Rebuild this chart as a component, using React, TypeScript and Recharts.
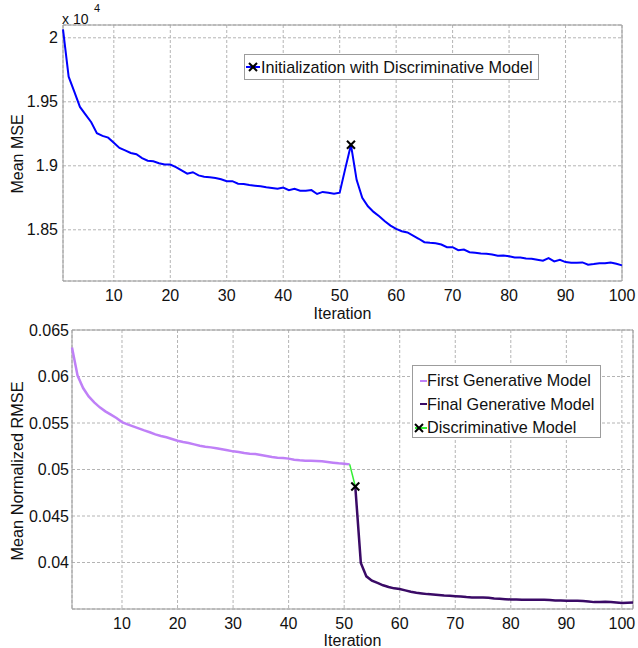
import { CartesianGrid, Legend, Line, LineChart, ReferenceArea, XAxis, YAxis } from "recharts";

const FONT = "'Liberation Sans', Arial, sans-serif";

// iteration axis
const topIterations = Array.from({ length: 100 }, (_, i) => i + 1);
const bottomIterations = Array.from({ length: 102 }, (_, i) => i + 1);
const xTicks = [10, 20, 30, 40, 50, 60, 70, 80, 90, 100];

// top panel: Mean MSE per iteration
const meanMse = [
  20065, 19696, 19580, 19460, 19400, 19340, 19255, 19234, 19220, 19180,
  19140, 19120, 19100, 19090, 19060, 19040, 19035, 19020, 19010, 19010,
  18990, 18964, 18938, 18950, 18925, 18915, 18910, 18905, 18895, 18880,
  18880, 18860, 18858, 18850, 18845, 18840, 18832, 18827, 18820, 18830,
  18810, 18820, 18805, 18805, 18810, 18780, 18796, 18790, 18782, 18790,
  18980, 19164, 18890, 18750, 18684, 18640, 18606, 18567, 18533, 18507,
  18489, 18479, 18455, 18430, 18403, 18398, 18395, 18385, 18364, 18364,
  18341, 18346, 18325, 18320, 18315, 18312, 18307, 18297, 18300, 18294,
  18284, 18284, 18276, 18274, 18266, 18258, 18279, 18253, 18266, 18248,
  18243, 18243, 18245, 18227, 18232, 18238, 18238, 18245, 18235, 18222,
];
const initIteration = 52;
const mseTicks = [18500, 19000, 19500, 20000];

// bottom panel: Mean Normalized RMSE
const firstGenerative = [
  0.06313, 0.0601, 0.05876, 0.05786, 0.05722, 0.05668, 0.05625, 0.0559, 0.05554, 0.0551,
  0.05485, 0.05464, 0.05442, 0.0542, 0.054, 0.05378, 0.0536, 0.05346, 0.05328, 0.0531,
  0.05296, 0.05285, 0.0527, 0.05256, 0.05245, 0.05238, 0.05228, 0.05217, 0.05206, 0.05195,
  0.05188, 0.05177, 0.0517, 0.05167, 0.05156, 0.05145, 0.05134, 0.05127, 0.05124, 0.05117,
  0.05106, 0.05099, 0.05095, 0.05094, 0.05092, 0.05088, 0.0508, 0.05073, 0.05066, 0.05063,
  0.05055,
]; // iterations 1..51
const finalGenerative = [
  0.04818, 0.03995, 0.03851, 0.03805, 0.0378, 0.03755, 0.03737, 0.03722, 0.03715,
  0.037, 0.03685, 0.03674, 0.03667, 0.0366, 0.03656, 0.0365, 0.03645, 0.03642, 0.03638,
  0.03635, 0.03628, 0.03624, 0.03624, 0.03624, 0.0362, 0.03613, 0.0361, 0.03606, 0.03603,
  0.03603, 0.03599, 0.03599, 0.03599, 0.03599, 0.03599, 0.03596, 0.03592, 0.03592, 0.03588,
  0.03588, 0.03588, 0.03585, 0.03581, 0.03574, 0.03574, 0.03578, 0.03574, 0.03571, 0.03564,
  0.03567, 0.03571,
]; // iterations 52..102
const discIteration = 52;
const rmseTicks = [0.04, 0.045, 0.05, 0.055, 0.06, 0.065];

const topData = topIterations.map((it, i) => ({
  it,
  mse: meanMse[i],
  init: it === initIteration ? meanMse[i] : null,
}));

const firstEnd = firstGenerative.length; // 51
const bottomData = bottomIterations.map((it) => {
  const first = it <= firstEnd ? firstGenerative[it - 1] : null;
  const final = it >= discIteration ? finalGenerative[it - discIteration] : null;
  return {
    it,
    first,
    final,
    bridge: it === firstEnd ? first : it === discIteration ? final : null,
    disc: it === discIteration ? final : null,
  };
});

const gridColor = "#b4b4b4";
const boxColor = "#9c9c9c";
const tickStyle = { fontSize: 16, fill: "#111", fontFamily: FONT };

const Cross = ({ x, y, s = 4 }: { x: number; y: number; s?: number }) => (
  <g stroke="#000" strokeWidth={2}>
    <line x1={x - s} y1={y - s} x2={x + s} y2={y + s} />
    <line x1={x - s} y1={y + s} x2={x + s} y2={y - s} />
  </g>
);

const crossDot = (props: any) => {
  const { cx, cy, value, index } = props;
  if (value == null || cx == null || cy == null) return <g key={`d${index}`} />;
  return (
    <g key={`d${index}`}>
      <Cross x={cx} y={cy} />
    </g>
  );
};

function TopLegend() {
  return (
    <div
      style={{
        boxSizing: "border-box",
        width: 295,
        height: 26,
        border: `1px solid ${boxColor}`,
        background: "#fff",
        display: "flex",
        alignItems: "center",
        fontFamily: FONT,
        fontSize: 16.2,
        color: "#111",
        whiteSpace: "nowrap",
      }}
    >
      <svg width={16} height={24}>
        <line x1={1} y1={12} x2={15} y2={12} stroke="#0000ff" strokeWidth={2} />
        <Cross x={8} y={12} />
      </svg>
      <span>Initialization with Discriminative Model</span>
    </div>
  );
}

const bottomLegendItems = [
  { label: "First Generative Model", color: "#bf80f7", cross: false },
  { label: "Final Generative Model", color: "#3a0a66", cross: false },
  { label: "Discriminative Model", color: "#33ee33", cross: true },
];

function BottomLegend() {
  return (
    <div
      style={{
        boxSizing: "border-box",
        width: 189,
        height: 73,
        paddingTop: 3,
        border: `1px solid ${boxColor}`,
        background: "#fff",
        fontFamily: FONT,
        fontSize: 16.2,
        color: "#111",
        whiteSpace: "nowrap",
      }}
    >
      {bottomLegendItems.map((item) => (
        <div key={item.label} style={{ display: "flex", alignItems: "center", height: 23.5 }}>
          <svg width={14} height={20}>
            <line x1={item.cross ? 2 : 7} y1={10} x2={14} y2={10} stroke={item.color} strokeWidth={2} />
            {item.cross && <Cross x={6} y={10} />}
          </svg>
          <span>{item.label}</span>
        </div>
      ))}
    </div>
  );
}

export default function App() {
  return (
    <div style={{ position: "absolute", left: 0, top: 0, width: 638, height: 648, background: "#fff", fontFamily: FONT }}>
      <div style={{ position: "absolute", left: 0, top: 0 }}>
        <LineChart width={638} height={320} data={topData} margin={{ top: 25, right: 16, bottom: 0, left: 13 }}>
          <CartesianGrid stroke={gridColor} strokeDasharray="3 2" />
          <XAxis
            dataKey="it"
            type="number"
            domain={[1, 100]}
            ticks={xTicks}
            height={39}
            tickLine={false}
            axisLine={false}
            tickSize={6}
            tickMargin={3}
            tick={tickStyle}
          />
          <YAxis
            type="number"
            domain={[18100, 20100]}
            ticks={mseTicks}
            width={50}
            tickLine={false}
            axisLine={false}
            tickSize={3}
            tickMargin={2}
            tick={tickStyle}
            tickFormatter={(v: number) => String(v / 10000)}
          />
          <ReferenceArea x1={1} x2={100} y1={18100} y2={20100} fill="none" stroke={boxColor} strokeWidth={1} />
          <Line dataKey="mse" type="linear" stroke="#0000ff" strokeWidth={2} dot={false} isAnimationActive={false} />
          <Line dataKey="init" stroke="none" dot={crossDot} activeDot={false} isAnimationActive={false} legendType="none" />
          <Legend
            layout="vertical"
            align="center"
            verticalAlign="middle"
            content={() => <TopLegend />}
            wrapperStyle={{ left: 244, top: 54, width: 295, height: 26 }}
          />
        </LineChart>
      </div>
      <div style={{ position: "absolute", left: 0, top: 320 }}>
        <LineChart width={638} height={328} data={bottomData} margin={{ top: 10, right: 5, bottom: 0, left: 12 }}>
          <CartesianGrid stroke={gridColor} strokeDasharray="3 2" />
          <XAxis
            dataKey="it"
            type="number"
            domain={[1, 102]}
            ticks={xTicks}
            height={39}
            tickLine={false}
            axisLine={false}
            tickSize={6}
            tickMargin={3}
            tick={tickStyle}
          />
          <YAxis
            type="number"
            domain={[0.035, 0.065]}
            ticks={rmseTicks}
            width={60}
            tickLine={false}
            axisLine={false}
            tickSize={2}
            tickMargin={1}
            tick={tickStyle}
            tickFormatter={(v: number) => String(v)}
          />
          <ReferenceArea x1={1} x2={102} y1={0.035} y2={0.065} fill="none" stroke={boxColor} strokeWidth={1} />
          <Line dataKey="first" type="linear" stroke="#bf80f7" strokeWidth={2.5} dot={false} isAnimationActive={false} />
          <Line dataKey="bridge" type="linear" stroke="#33ee33" strokeWidth={1.5} dot={false} isAnimationActive={false} />
          <Line dataKey="final" type="linear" stroke="#3a0a66" strokeWidth={2.5} dot={false} isAnimationActive={false} />
          <Line dataKey="disc" stroke="none" dot={crossDot} activeDot={false} isAnimationActive={false} legendType="none" />
          <Legend
            layout="vertical"
            align="center"
            verticalAlign="middle"
            content={() => <BottomLegend />}
            wrapperStyle={{ left: 412, top: 45, width: 189, height: 73 }}
          />
        </LineChart>
      </div>
      <svg width={638} height={648} style={{ position: "absolute", left: 0, top: 0, pointerEvents: "none" }}>
        <g fontFamily={FONT} fill="#111">
          <text x={62} y={24} fontSize={14}>x 10</text>
          <text x={94} y={12} fontSize={11}>4</text>
          <text x={23} y={154} fontSize={16} textAnchor="middle" transform="rotate(-90 23 154)">Mean MSE</text>
          <text x={342.5} y={319} fontSize={16} textAnchor="middle">Iteration</text>
          <text x={23} y={471} fontSize={16.3} textAnchor="middle" transform="rotate(-90 23 471)">Mean Normalized RMSE</text>
          <text x={352.5} y={646} fontSize={16} textAnchor="middle">Iteration</text>
        </g>
      </svg>
    </div>
  );
}
